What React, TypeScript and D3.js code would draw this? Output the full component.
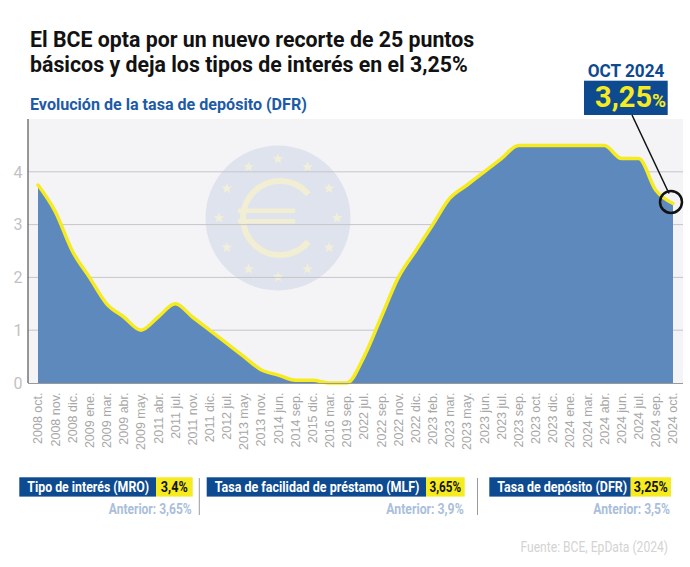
import React, { useLayoutEffect, useRef, useState } from "react";
import * as d3 from "d3";

const categories = [
  "2008 oct.", "2008 nov.", "2008 dic.", "2009 ene.", "2009 mar.", "2009 abr.", "2009 may.",
  "2011 abr.", "2011 jul.", "2011 nov.", "2011 dic.", "2012 jul.", "2013 may.", "2013 nov.",
  "2014 jun.", "2014 sep.", "2015 dic.", "2016 mar.", "2019 sep.", "2022 jul.", "2022 sep.",
  "2022 nov.", "2022 dic.", "2023 feb.", "2023 mar.", "2023 may.", "2023 jun.", "2023 jul.",
  "2023 sep.", "2023 oct.", "2023 dic.", "2024 ene.", "2024 mar.", "2024 abr.", "2024 jun.",
  "2024 jul.", "2024 sep.", "2024 oct.",
];
const rateValues = [
  3.75, 3.25, 2.5, 2.0, 1.5, 1.25, 1.0,
  1.25, 1.5, 1.25, 1.0, 0.75, 0.5, 0.25,
  0.15, 0.05, 0.05, 0.0, 0.0, 0.5, 1.25,
  2.0, 2.5, 3.0, 3.5, 3.75, 4.0, 4.25,
  4.5, 4.5, 4.5, 4.5, 4.5, 4.5, 4.25,
  4.25, 3.65, 3.4,
];
const yTicks = [0, 1, 2, 3, 4];

const titleLines = [
  "El BCE opta por un nuevo recorte de 25 puntos",
  "básicos y deja los tipos de interés en el 3,25%",
];
const subtitle = "Evolución de la tasa de depósito (DFR)";
const calloutDate = "OCT 2024";
const calloutValue = "3,25";

const panelLabels = ["Tipo de interés (MRO)", "Tasa de facilidad de préstamo (MLF)", "Tasa de depósito (DFR)"];
const panelValues = ["3,4%", "3,65%", "3,25%"];
const panelPrevious = ["Anterior: 3,65%", "Anterior: 3,9%", "Anterior: 3,5%"];
const sourceText = "Fuente: BCE, EpData (2024)";

const W = 690;
const H = 567;
const BLUE = "#0d4a90";
const YELLOW = "#f6eb1f";
const FONT = "Roboto, 'Noto Sans', sans-serif";

function starPath(cx: number, cy: number, R: number, r: number) {
  const pts: [number, number][] = [];
  for (let i = 0; i < 10; i++) {
    const a = -Math.PI / 2 + (i * Math.PI) / 5;
    const rad = i % 2 === 0 ? R : r;
    pts.push([cx + rad * Math.cos(a), cy + rad * Math.sin(a)]);
  }
  return "M" + pts.map((p) => p.join(",")).join("L") + "Z";
}

// Text horizontally scaled to a target width (condensed look)
function FitText(props: {
  x: number;
  y: number;
  width: number;
  anchor?: "start" | "middle" | "end";
  size: number;
  weight?: number;
  fill: string;
  children: React.ReactNode;
}) {
  const ref = useRef<SVGTextElement>(null);
  const [s, setS] = useState(1);
  useLayoutEffect(() => {
    if (ref.current) {
      const w = ref.current.getComputedTextLength();
      if (w > 0) setS(props.width / w);
    }
  }, [props.width, props.children, props.size]);
  return (
    <g transform={`translate(${props.x},${props.y}) scale(${s},1)`}>
      <text
        ref={ref}
        x={0}
        y={0}
        textAnchor={props.anchor || "start"}
        fontFamily={FONT}
        fontSize={props.size}
        fontWeight={props.weight || 400}
        fill={props.fill}
      >
        {props.children}
      </text>
    </g>
  );
}

export default function App() {
  const plotLeft = 28;
  const plotRight = 683;
  const x = d3.scalePoint<string>().domain(categories).range([38, 673]);
  const y = d3.scaleLinear().domain([0, 5]).range([383, 119]);

  const data = categories.map((c, i) => ({ c, v: rateValues[i] }));
  const area = d3
    .area<{ c: string; v: number }>()
    .x((d) => x(d.c) as number)
    .y0(y(0))
    .y1((d) => y(d.v))
    .curve(d3.curveMonotoneX);
  const line = d3
    .line<{ c: string; v: number }>()
    .x((d) => x(d.c) as number)
    .y((d) => y(d.v))
    .curve(d3.curveMonotoneX);

  const last = data[data.length - 1];
  const lx = x(last.c) as number;
  const ly = y(last.v);

  // euro logo
  const ecx = 278;
  const ecy = 218;
  const stars = d3.range(12).map((i) => {
    const a = (i * Math.PI) / 6;
    return starPath(ecx + 59 * Math.sin(a), ecy - 59 * Math.cos(a), 5.5, 2.4);
  });
  const arcR = 37;
  const a0 = (-40 * Math.PI) / 180;
  const a1 = (40 * Math.PI) / 180;
  const euroArc = `M${ecx + 2 + arcR * Math.cos(a0)},${ecy + arcR * Math.sin(a0)} A${arcR},${arcR} 0 1 0 ${ecx + 2 + arcR * Math.cos(a1)},${ecy + arcR * Math.sin(a1)}`;

  const panels = [
    { x0: 19.3, xs: 156, x1: 192.7, lw: 122 },
    { x0: 206.7, xs: 426, x1: 464.7, lw: 205 },
    { x0: 489.3, xs: 630.7, x1: 671, lw: 130 },
  ];
  const prevW = [83, 77.5, 76.7];
  const valW = [27, 31.7, 34];

  return (
    <svg
      width={W}
      height={H}
      viewBox={`0 0 ${W} ${H}`}
      style={{ position: "absolute", left: 0, top: 0, background: "#fff" }}
    >
      <rect x={0} y={0} width={W} height={H} fill="#fff" />
      {/* title */}
      <FitText x={30} y={47} width={444.5} size={22} weight={700} fill="#121212">
        {titleLines[0]}
      </FitText>
      <FitText x={30} y={72} width={438} size={22} weight={700} fill="#121212">
        {titleLines[1]}
      </FitText>
      <FitText x={30} y={110} width={277} size={17} weight={700} fill="#1d5ba6">
        {subtitle}
      </FitText>

      {/* plot background */}
      <rect x={plotLeft} y={y(5)} width={plotRight - plotLeft} height={y(0) - y(5)} fill="#f4f3f6" />

      {/* euro logo */}
      <g>
        <circle cx={ecx} cy={ecy} r={72.5} fill="#dfe3ed" />
        {stars.map((p, i) => (
          <path key={i} d={p} fill="#f1efd9" />
        ))}
        <path d={euroArc} fill="none" stroke="#f1eed3" strokeWidth={6} />
        <rect x={238} y={208.5} width={57} height={4.5} fill="#f1eed3" />
        <rect x={238} y={219} width={57} height={4.5} fill="#f1eed3" />
      </g>

      {/* gridlines */}
      {yTicks.filter((t) => t > 0).map((t) => (
        <line key={t} x1={plotLeft} x2={plotRight} y1={y(t)} y2={y(t)} stroke="#c6c6c9" strokeWidth={1} />
      ))}

      {/* area & line */}
      <path d={area(data) as string} fill="#5e89bd" />
      <path d={line(data) as string} fill="none" stroke={YELLOW} strokeWidth={3.5} strokeLinejoin="round" strokeLinecap="round" />

      {/* axes */}
      <line x1={plotLeft} x2={plotLeft} y1={y(5)} y2={y(0)} stroke="#555" strokeWidth={1.2} />
      <line x1={plotLeft} x2={plotRight} y1={y(0) + 0.5} y2={y(0) + 0.5} stroke="#9a9a9a" strokeWidth={1} />
      {yTicks.map((t) => (
        <text key={t} x={18} y={y(t)} dy="0.36em" textAnchor="middle" fontFamily={FONT} fontSize={16} fill="#c2c2c2">
          {t}
        </text>
      ))}
      {categories.map((c) => (
        <text
          key={c}
          transform={`translate(${x(c)},${392.5}) rotate(-90)`}
          textAnchor="end"
          dy="0.35em"
          fontFamily="'Liberation Sans', Arial, sans-serif"
          fontSize={12.5}
          fill="#a7a7a7"
        >
          {c}
        </text>
      ))}

      {/* callout */}
      <FitText x={626} y={77} width={76.7} anchor="middle" size={19} weight={700} fill={BLUE}>
        {calloutDate}
      </FitText>
      <rect x={584} y={80.7} width={83.7} height={34.3} fill={BLUE} />
      <text x={595} y={107} fontFamily={FONT} fontWeight={700} fill={YELLOW}>
        <tspan fontSize={29}>{calloutValue}</tspan>
        <tspan fontSize={19}>%</tspan>
      </text>
      <line x1={632} y1={115} x2={lx - 4} y2={ly - 10} stroke="#111" strokeWidth={1.5} />
      <circle cx={lx - 2} cy={ly - 1.5} r={11} fill="none" stroke="#111" strokeWidth={2.5} />

      {/* bottom panels */}
      {panels.map((p, i) => (
        <g key={i}>
          <rect x={p.x0} y={477.3} width={p.xs - p.x0} height={19.3} fill={BLUE} />
          <rect x={p.xs} y={477.3} width={p.x1 - p.xs} height={19.3} fill={YELLOW} />
          <FitText x={p.x0 + 8} y={492} width={p.lw} size={15} weight={700} fill="#fff">
            {panelLabels[i]}
          </FitText>
          <FitText x={(p.xs + p.x1) / 2} y={492} width={valW[i]} anchor="middle" size={15} weight={700} fill="#111">
            {panelValues[i]}
          </FitText>
          <FitText x={p.x1 - 1} y={514} width={prevW[i]} anchor="end" size={14.5} weight={700} fill="#a9bedb">
            {panelPrevious[i]}
          </FitText>
        </g>
      ))}
      <line x1={199.3} x2={199.3} y1={478} y2={515} stroke="#9a9a9a" strokeWidth={1} />
      <line x1={477.5} x2={477.5} y1={478} y2={515} stroke="#9a9a9a" strokeWidth={1} />

      <FitText x={668} y={552} width={147.7} anchor="end" size={14.5} fill="#d3d3d3">
        {sourceText}
      </FitText>
    </svg>
  );
}
